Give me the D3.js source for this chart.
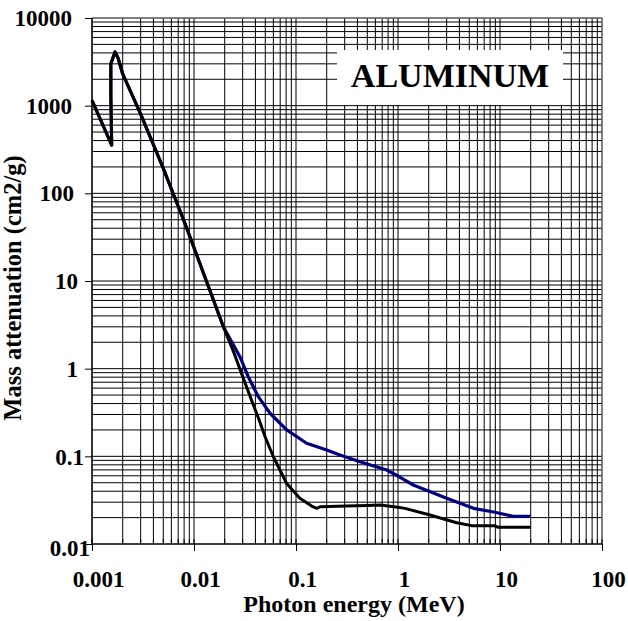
<!DOCTYPE html>
<html><head><meta charset="utf-8">
<script src="https://cdn.jsdelivr.net/npm/d3@7"></script>
<style>
html,body{margin:0;padding:0;background:#fff;}
svg text{font-family:"Liberation Serif","Times New Roman",serif;font-weight:bold;fill:#000;}
</style></head>
<body>
<svg id="chart" width="628" height="621"></svg>
<script>
// Data (energy in MeV, mass attenuation in cm2/g)
const xTickValues = [0.001, 0.01, 0.1, 1, 10, 100];
const xTickLabels = ["0.001", "0.01", "0.1", "1", "10", "100"];
const yTickValues = [0.01, 0.1, 1, 10, 100, 1000, 10000];
const yTickLabels = ["0.01", "0.1", "1", "10", "100", "1000", "10000"];

const blackEnergy = [0.001, 0.00156, 0.00153, 0.00153, 0.00168, 0.0018, 0.002, 0.003, 0.004, 0.005, 0.006, 0.008, 0.01, 0.0155, 0.0194, 0.025, 0.0304, 0.0363, 0.043, 0.05, 0.06, 0.081, 0.109, 0.1425, 0.16, 0.172, 0.314, 0.5, 0.667, 1.0, 1.17, 2.06, 3.76, 5.27, 8.93, 9.6, 20];
const blackMu =     [1150, 355, 1300, 3000, 4100, 3500, 2300, 800, 360, 193, 112, 48, 24, 6.07, 3.01, 1.45, 0.78, 0.45, 0.27, 0.165, 0.099, 0.049, 0.0332, 0.0271, 0.0255, 0.0266, 0.0271, 0.0275, 0.0279, 0.0262, 0.0255, 0.0214, 0.0175, 0.0162, 0.0161, 0.0155, 0.0155];

const blueEnergy = [0.001, 0.00156, 0.00153, 0.00153, 0.00168, 0.0018, 0.002, 0.003, 0.004, 0.005, 0.006, 0.008, 0.01, 0.0155, 0.0194, 0.0282, 0.034, 0.0427, 0.0556, 0.0811, 0.127, 0.2, 0.27, 0.424, 0.775, 1.05, 1.41, 3.0, 5.5, 8.9, 13.4, 20];
const blueMu =     [1150, 355, 1300, 3000, 4100, 3500, 2300, 800, 360, 193, 112, 48, 24, 6.07, 3.01, 1.37, 0.81, 0.479, 0.31, 0.2, 0.141, 0.118, 0.1035, 0.0869, 0.0698, 0.0577, 0.0471, 0.0332, 0.0255, 0.023, 0.0207, 0.0207];

const materialLabel = "ALUMINUM";
const xTitle = "Photon energy (MeV)";
const yTitle = "Mass attenuation (cm2/g)";

// layout only: right edge and vertical nudge of each y tick label (same order as yTickValues)
const yLabelRight = [90, 84, 78, 78, 74, 72, 72];
const yLabelNudge = [4, 1, 0, 0, 0, 0, 0];

const svg = d3.select("#chart");
const L = 92, R = 602, T = 18, B = 544;
const x = d3.scaleLog().domain([0.001, 100]).range([L, R]);
const y = d3.scaleLog().domain([0.01, 10000]).range([B, T]);

function allDecadeValues(lo, hi) {
  const out = [];
  for (let e = Math.round(Math.log10(lo)); e < Math.round(Math.log10(hi)); e++) {
    for (let m = 1; m <= 9; m++) out.push(m * Math.pow(10, e));
  }
  out.push(hi);
  return out;
}
const xGrid = allDecadeValues(0.001, 100);
const yGrid = allDecadeValues(0.01, 10000);

const grid = svg.append("g");
grid.selectAll("line.v").data(xGrid).enter().append("line")
  .attr("x1", d => x(d)).attr("x2", d => x(d)).attr("y1", T).attr("y2", B)
  .attr("stroke", "#000").attr("stroke-width", 1);
grid.selectAll("line.h").data(yGrid).enter().append("line")
  .attr("y1", d => y(d)).attr("y2", d => y(d)).attr("x1", L).attr("x2", R)
  .attr("stroke", "#000").attr("stroke-width", 1);

svg.append("rect").attr("x", L).attr("y", T).attr("width", R - L).attr("height", B - T)
  .attr("fill", "none").attr("stroke", "#808080").attr("stroke-width", 1);

const xAxis = d3.axisBottom(x).tickValues(xTickValues)
  .tickFormat((d, i) => xTickLabels[i]).tickSize(7).tickPadding(20);
const gx = svg.append("g").attr("transform", `translate(0,${B})`).call(xAxis);
gx.attr("font-family", null);
gx.select(".domain").attr("stroke", "#000").attr("stroke-width", 1.2).attr("d", `M${L},0H${R}`);
gx.selectAll(".tick line").attr("stroke", "#000");
gx.selectAll(".tick text").attr("font-size", 23).attr("dx", 6).attr("dy", "0.71em").attr("fill", "#000");

const yAxis = d3.axisLeft(y).tickValues(yTickValues)
  .tickFormat((d, i) => yTickLabels[i]).tickSize(7).tickPadding(13);
const gy = svg.append("g").attr("transform", `translate(${L},0)`).call(yAxis);
gy.attr("font-family", null);
gy.select(".domain").attr("stroke", "#000").attr("stroke-width", 1.2).attr("d", `M0,${T}V${B}`);
gy.selectAll(".tick line").attr("stroke", "#000");
gy.selectAll(".tick text").attr("font-size", 23).attr("fill", "#000")
  .attr("x", (d, i) => yLabelRight[i] - L)
  .attr("y", (d, i) => yLabelNudge[i])
  .attr("dy", "0.32em");

svg.append("g").selectAll("line").data(xGrid).enter().append("line")
  .attr("x1", d => x(d)).attr("x2", d => x(d)).attr("y1", B).attr("y2", B - 5).attr("stroke", "#000");

const line = d3.line().x(d => x(d[0])).y(d => y(d[1])).curve(d3.curveLinear);
const bluePts = blueEnergy.map((e, i) => [e, blueMu[i]]);
const blackPts = blackEnergy.map((e, i) => [e, blackMu[i]]);
svg.append("path").attr("d", line(bluePts)).attr("fill", "none")
  .attr("stroke", "#000080").attr("stroke-width", 3.2).attr("stroke-linejoin", "round");
svg.append("path").attr("d", line(blackPts)).attr("fill", "none")
  .attr("stroke", "#000").attr("stroke-width", 3).attr("stroke-linejoin", "round");

svg.append("rect").attr("x", 337).attr("y", 50).attr("width", 226).attr("height", 55).attr("fill", "#fff");
svg.append("text").attr("x", 450).attr("y", 87).attr("text-anchor", "middle")
  .attr("font-size", 34).text(materialLabel);

svg.append("text").attr("x", 354).attr("y", 612).attr("text-anchor", "middle")
  .attr("font-size", 24).text(xTitle);
svg.append("text").attr("transform", "translate(21,288) rotate(-90)").attr("text-anchor", "middle")
  .attr("font-size", 24.5).text(yTitle);
</script>
</body></html>
